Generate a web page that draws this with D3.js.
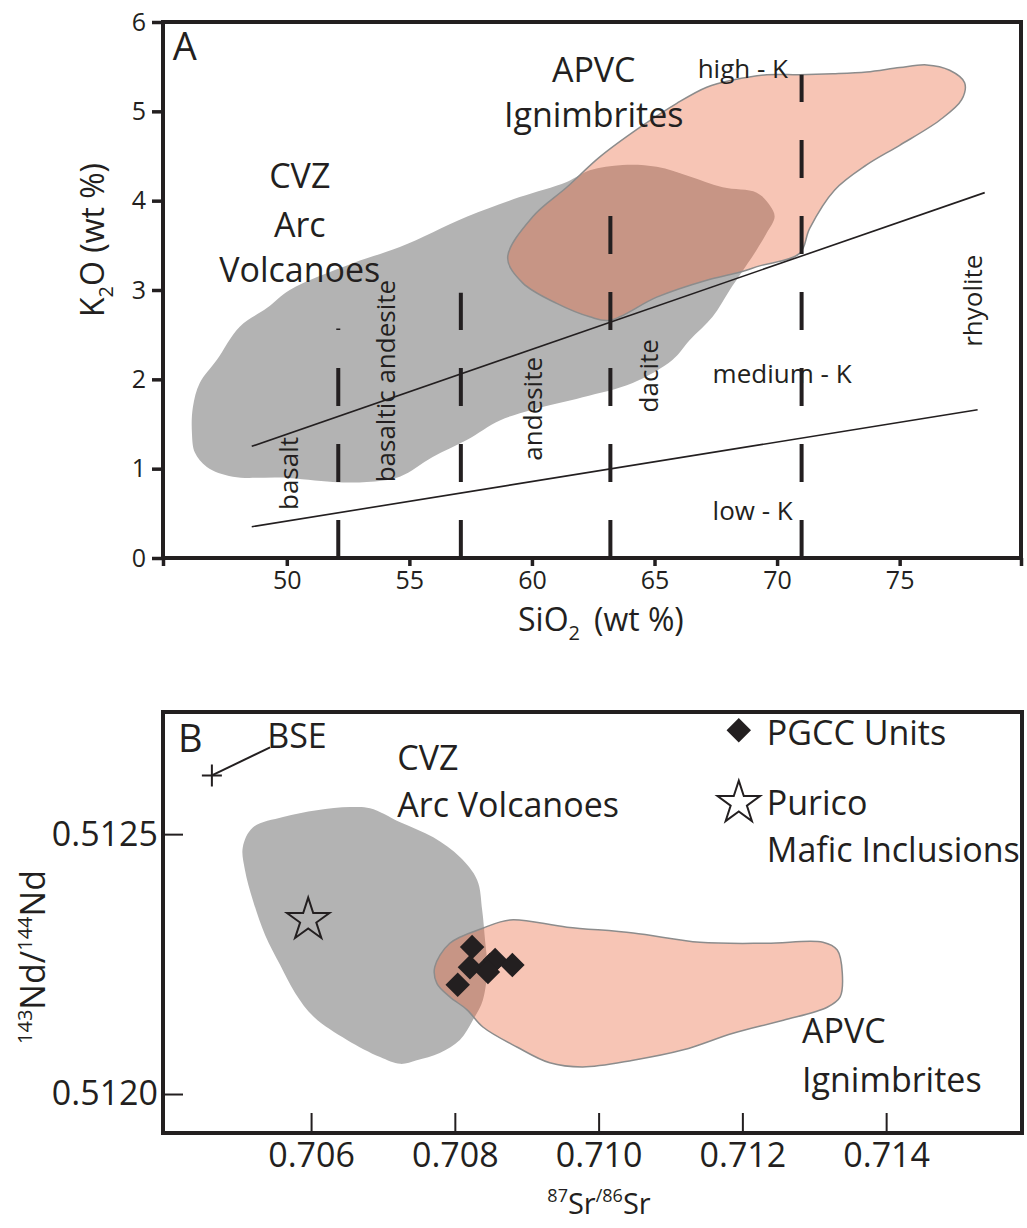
<!DOCTYPE html>
<html>
<head>
<meta charset="utf-8">
<script src="https://cdn.jsdelivr.net/npm/d3@7"></script>
<style>
  body { margin: 0; background: #fff; }
  svg { display: block; font-family: "Open Sans", sans-serif; }
  text { fill: #231f20; }
</style>
</head>
<body>
<svg id="chart"></svg>
<script>
// ---- panel A data (SiO2 vs K2O) ----
const siTicks = [50, 55, 60, 65, 70, 75];
const kTicks = [0, 1, 2, 3, 4, 5, 6];
const rockBounds = [52.1, 57.1, 63.2, 71.0];   // dashed SiO2 divisions
const rockBoundTops = [2.57, 2.97, 3.86, 5.41];
const highKLine = [[48.57, 1.25], [78.47, 4.09]];
const lowKLine = [[48.57, 0.35], [78.18, 1.66]];

const cvzFieldA = [
  [46.13, 1.40], [46.17, 1.69], [46.45, 1.96], [47.15, 2.22], [48.08, 2.59],
  [49.20, 2.80], [50.12, 3.00], [52.69, 3.30], [54.61, 3.48], [57.34, 3.82],
  [59.50, 4.04], [61.42, 4.21], [62.36, 4.34], [63.70, 4.40], [65.09, 4.38],
  [66.44, 4.27], [67.78, 4.15], [69.17, 4.09], [69.70, 3.95], [69.90, 3.82],
  [69.58, 3.64], [69.17, 3.45], [68.07, 3.00], [67.37, 2.70], [66.44, 2.44],
  [65.74, 2.22], [64.11, 1.96], [62.07, 1.80], [60.03, 1.66], [58.69, 1.54],
  [57.34, 1.32], [55.95, 1.13], [54.61, 0.91], [53.26, 0.85], [51.88, 0.85],
  [49.84, 0.90], [47.80, 0.91], [46.74, 1.02], [46.25, 1.18]
];
const apvcFieldA = [
  [59.01, 3.36], [60.03, 3.82], [61.42, 4.15], [62.77, 4.49], [64.40, 4.82],
  [65.91, 5.09], [67.13, 5.27], [68.19, 5.35], [69.58, 5.41], [70.92, 5.41],
  [72.27, 5.42], [73.65, 5.44], [75.00, 5.49], [76.10, 5.52], [77.04, 5.46],
  [77.65, 5.32], [77.53, 5.13], [76.63, 4.90], [75.00, 4.62], [73.65, 4.40],
  [72.35, 4.12], [71.33, 3.69], [70.92, 3.41], [69.29, 3.27], [68.35, 3.19],
  [67.13, 3.11], [65.09, 2.92], [63.17, 2.66], [62.36, 2.70], [61.01, 2.85],
  [59.62, 3.08]
];

// ---- panel B data (87Sr/86Sr vs 143Nd/144Nd) ----
const srTicks = [0.706, 0.708, 0.710, 0.712, 0.714];
const ndTicks = [0.5120, 0.5125];
const cvzFieldB = [
  [0.70505, 0.512475], [0.70519, 0.512513], [0.70561, 0.512533], [0.70608, 0.512546],
  [0.70654, 0.512552], [0.70682, 0.512550], [0.70724, 0.512523], [0.70770, 0.512494],
  [0.70807, 0.512456], [0.70831, 0.512412], [0.70838, 0.512354], [0.70842, 0.512296],
  [0.70845, 0.512244], [0.70839, 0.512181], [0.70825, 0.512142], [0.70807, 0.512104],
  [0.70779, 0.512079], [0.70747, 0.512065], [0.70724, 0.512058], [0.70696, 0.512071],
  [0.70650, 0.512104], [0.70604, 0.512148], [0.70578, 0.512194], [0.70557, 0.512248],
  [0.70536, 0.512306], [0.70519, 0.512373], [0.70508, 0.512431]
];
const apvcFieldB = [
  [0.70772, 0.512244], [0.70793, 0.512290], [0.70839, 0.512319], [0.70877, 0.512335],
  [0.70956, 0.512321], [0.71048, 0.512310], [0.71141, 0.512292], [0.71234, 0.512290],
  [0.71312, 0.512292], [0.71332, 0.512277], [0.71339, 0.512233], [0.71336, 0.512187],
  [0.71318, 0.512167], [0.71257, 0.512142], [0.71187, 0.512117], [0.71118, 0.512085],
  [0.71048, 0.512065], [0.70978, 0.512052], [0.70932, 0.512060], [0.70887, 0.512090],
  [0.70839, 0.512129], [0.70817, 0.512162], [0.70793, 0.512187], [0.70775, 0.512213]
];
const pgccSr = [0.70824, 0.70821, 0.70849, 0.70856, 0.70880, 0.70804, 0.70846];
const pgccNd = [0.512283, 0.512244, 0.512248, 0.512258, 0.512248, 0.512210, 0.512235];
const puricoInclusion = [0.70596, 0.512335];
const bse = [0.70462, 0.512613];

const ink = "#231f20";
const grayFill = "#b3b3b3";
const salmon = "#e96136";

const svg = d3.select("#chart").attr("width", 1027).attr("height", 1228);

function smooth(x, y) {
  return d3.line().x(d => x(d[0])).y(d => y(d[1])).curve(d3.curveCatmullRomClosed.alpha(0.5));
}

function fields(g, x, y, cvz, apvc) {
  g.append("path").attr("d", smooth(x, y)(cvz)).attr("fill", grayFill);
  g.append("path").attr("d", smooth(x, y)(apvc))
    .attr("fill", salmon).attr("fill-opacity", 0.37)
    .attr("stroke", "#8c8c8c").attr("stroke-width", 1.5);
}

function label(g, x, y, str, size, anchor) {
  return g.append("text").attr("x", x).attr("y", y)
    .attr("font-size", size).attr("text-anchor", anchor || "start").text(str);
}

// ================= Panel A =================
const xA = d3.scaleLinear().domain([44.95, 79.95]).range([163, 1021]);
const yA = d3.scaleLinear().domain([0, 6]).range([558, 22]);
const gA = svg.append("g");

fields(gA, xA, yA, cvzFieldA, apvcFieldA);

[highKLine, lowKLine].forEach(l => {
  gA.append("line")
    .attr("x1", xA(l[0][0])).attr("y1", yA(l[0][1]))
    .attr("x2", xA(l[1][0])).attr("y2", yA(l[1][1]))
    .attr("stroke", ink).attr("stroke-width", 1.6);
});

rockBounds.forEach((si, i) => {
  gA.append("line")
    .attr("x1", xA(si)).attr("y1", yA(0))
    .attr("x2", xA(si)).attr("y2", yA(rockBoundTops[i]))
    .attr("stroke", ink).attr("stroke-width", 4)
    .attr("stroke-dasharray", "38,38");
});

// field + series labels
label(gA, xA(45.35), yA(5.57), "A", 38);
label(gA, xA(50.53), yA(4.14), "CVZ", 34, "middle");
label(gA, xA(50.53), yA(3.59), "Arc", 34, "middle");
label(gA, xA(50.53), yA(3.09), "Volcanoes", 34, "middle");
label(gA, xA(62.52), yA(5.33), "APVC", 34, "middle");
label(gA, xA(62.52), yA(4.82), "Ignimbrites", 34, "middle");
label(gA, xA(66.76), yA(5.37), "high - K", 26);
label(gA, xA(67.37), yA(1.96), "medium - K", 26);
label(gA, xA(67.37), yA(0.425), "low - K", 26);

const rockNames = [
  ["basalt", 50.45, 0.946], ["basaltic andesite", 54.40, 1.98],
  ["andesite", 60.40, 1.67], ["dacite", 65.13, 2.04], ["rhyolite", 78.34, 2.88]
];
rockNames.forEach(([name, si, k]) => {
  gA.append("text")
    .attr("transform", `translate(${xA(si)},${yA(k)}) rotate(-90)`)
    .attr("text-anchor", "middle").attr("font-size", 26).text(name);
});

// axes A
const axA = gA.append("g").attr("transform", `translate(0,${yA(0)})`)
  .call(d3.axisBottom(xA).tickValues([44.95, ...siTicks, 79.95])
    .tickFormat(d => siTicks.includes(d) ? d : "").tickSize(8).tickPadding(5).tickSizeOuter(0));
const ayA = gA.append("g").attr("transform", `translate(${xA.range()[0]},0)`)
  .call(d3.axisLeft(yA).tickValues(kTicks).tickFormat(d3.format("d"))
    .tickSize(11).tickPadding(6).tickSizeOuter(0));
[axA, ayA].forEach(a => {
  a.attr("font-family", null).attr("font-size", 25);
  a.selectAll("text").attr("fill", ink);
  a.selectAll("line").attr("stroke", ink).attr("stroke-width", 3.5);
  a.select(".domain").remove();
});
gA.append("rect")
  .attr("x", 163).attr("y", 22).attr("width", 1021 - 163).attr("height", 558 - 22)
  .attr("fill", "none").attr("stroke", ink).attr("stroke-width", 4);

const xtA = gA.append("text").attr("x", 518).attr("y", 631).attr("font-size", 32);
xtA.append("tspan").text("SiO");
xtA.append("tspan").attr("font-size", 20).attr("dy", 9).text("2");
xtA.append("tspan").attr("dy", -9).attr("dx", 14).text("(wt %)");
const ytA = gA.append("text").attr("transform", "translate(104,240) rotate(-90)")
  .attr("text-anchor", "middle").attr("font-size", 32);
ytA.append("tspan").text("K");
ytA.append("tspan").attr("font-size", 20).attr("dy", 9).text("2");
ytA.append("tspan").attr("dy", -9).text("O (wt %)");

// ================= Panel B =================
const xB = d3.scaleLinear().domain([0.70394, 0.71589]).range([163, 1022]);
const yB = d3.scaleLinear().domain([0.511925, 0.512735]).range([1133, 712]);
const gB = svg.append("g");

fields(gB, xB, yB, cvzFieldB, apvcFieldB);

const diamond = d3.symbol(d3.symbolSquare, 300);
gB.selectAll("path.pgcc").data(pgccSr).join("path").attr("class", "pgcc")
  .attr("d", diamond)
  .attr("transform", (d, i) => `translate(${xB(d)},${yB(pgccNd[i])}) rotate(45)`)
  .attr("fill", ink);

const star = d3.symbol(d3.symbolStar, 560);
gB.append("path").attr("d", star)
  .attr("transform", `translate(${xB(puricoInclusion[0])},${yB(puricoInclusion[1])})`)
  .attr("fill", "none").attr("stroke", ink).attr("stroke-width", 2);

// BSE marker and leader
const bx = xB(bse[0]), by = yB(bse[1]);
gB.append("path").attr("d", `M${bx - 10},${by}H${bx + 10}M${bx},${by - 11}V${by + 11}`)
  .attr("stroke", ink).attr("stroke-width", 2);
gB.append("line").attr("x1", bx).attr("y1", by)
  .attr("x2", xB(0.70543)).attr("y2", yB(0.512667))
  .attr("stroke", ink).attr("stroke-width", 2);

label(gB, xB(0.70415), yB(0.512658), "B", 38);
label(gB, xB(0.70539), yB(0.512665), "BSE", 34);
label(gB, xB(0.70720), yB(0.512623), "CVZ", 34);
label(gB, xB(0.70720), yB(0.512533), "Arc Volcanoes", 34);
label(gB, xB(0.71283), yB(0.512098), "APVC", 34);
label(gB, xB(0.71283), yB(0.512004), "Ignimbrites", 34);

// legend
gB.append("path").attr("d", diamond)
  .attr("transform", `translate(${xB(0.71195)},${yB(0.512700)}) rotate(45)`)
  .attr("fill", ink);
label(gB, xB(0.71234), yB(0.512671), "PGCC Units", 34);
gB.append("path").attr("d", star)
  .attr("transform", `translate(${xB(0.71195)},${yB(0.512560)})`)
  .attr("fill", "none").attr("stroke", ink).attr("stroke-width", 2);
label(gB, xB(0.71234), yB(0.512537), "Purico", 34);
label(gB, xB(0.71234), yB(0.512446), "Mafic Inclusions", 34);

// axes B
const axB = gB.append("g").attr("transform", `translate(0,${yB.range()[0]})`)
  .call(d3.axisBottom(xB).tickValues(srTicks).tickFormat(d3.format(".3f"))
    .tickSize(-20).tickPadding(10).tickSizeOuter(0));
const ayB = gB.append("g").attr("transform", `translate(${xB.range()[0]},0)`)
  .call(d3.axisLeft(yB).tickValues(ndTicks).tickFormat(d3.format(".4f"))
    .tickSize(-20).tickPadding(5).tickSizeOuter(0));
[axB, ayB].forEach(a => {
  a.attr("font-family", null).attr("font-size", 34);
  a.selectAll("text").attr("fill", ink);
  a.selectAll("line").attr("stroke", ink).attr("stroke-width", 2);
  a.select(".domain").remove();
});
gB.append("rect")
  .attr("x", 163).attr("y", 712).attr("width", 1022 - 163).attr("height", 1133 - 712)
  .attr("fill", "none").attr("stroke", ink).attr("stroke-width", 4);

const xtB = gB.append("text").attr("x", 599).attr("y", 1214)
  .attr("text-anchor", "middle").attr("font-size", 29);
xtB.append("tspan").attr("font-size", 18).attr("dy", -12).text("87");
xtB.append("tspan").attr("dy", 12).text("Sr");
xtB.append("tspan").attr("font-size", 18).attr("dy", -12).text("/86");
xtB.append("tspan").attr("dy", 12).text("Sr");
const ytB = gB.append("text").attr("transform", "translate(45,957) rotate(-90)")
  .attr("text-anchor", "middle").attr("font-size", 34);
ytB.append("tspan").attr("font-size", 20).attr("dy", -13).text("143");
ytB.append("tspan").attr("dy", 13).text("Nd/");
ytB.append("tspan").attr("font-size", 20).attr("dy", -13).text("144");
ytB.append("tspan").attr("dy", 13).text("Nd");
</script>
</body>
</html>
